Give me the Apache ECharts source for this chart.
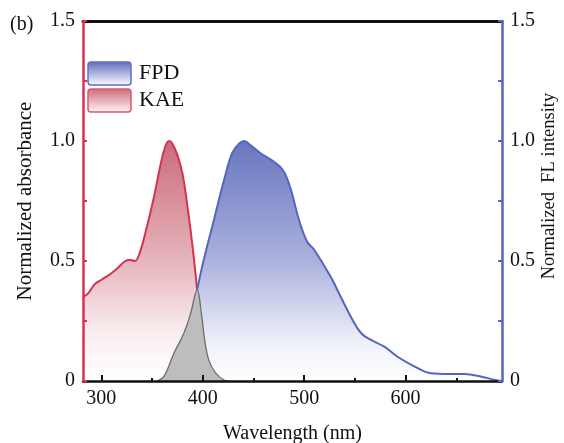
<!DOCTYPE html>
<html>
<head>
<meta charset="utf-8">
<script src="https://cdn.jsdelivr.net/npm/echarts@6/dist/echarts.min.js"></script>
<style>html,body{margin:0;padding:0;background:#fff;}#c{width:564px;height:443px;}</style>
</head>
<body>
<div id="c"></div>
<script>
// ---- data ----
const kaeX = [282, 287, 294, 301, 309, 316, 323, 328, 333, 338, 345, 352, 358, 363, 367, 370, 375, 380, 385, 390, 394.5];
const kaeY = [0.35, 0.365, 0.405, 0.424, 0.446, 0.47, 0.498, 0.505, 0.5, 0.535, 0.643, 0.768, 0.893, 0.976, 1.0, 0.99, 0.942, 0.865, 0.726, 0.56, 0.38];
const fpdX = [394.5, 401, 411, 421, 429, 436, 441, 447, 457, 470, 479, 486, 495, 503, 510, 526, 536, 546, 556, 566, 579, 592, 609, 625, 642, 658, 675, 688, 695];
const fpdY = [0.38, 0.504, 0.67, 0.837, 0.949, 0.99, 1.0, 0.983, 0.949, 0.914, 0.879, 0.81, 0.67, 0.58, 0.546, 0.435, 0.351, 0.268, 0.2, 0.171, 0.143, 0.101, 0.06, 0.032, 0.029, 0.029, 0.018, 0.004, 0];
const ovX = [355, 362, 371.5, 381.5, 388, 394.5, 399, 402, 406, 413, 421, 426];
const ovY = [0, 0.02, 0.115, 0.2, 0.28, 0.38, 0.27, 0.17, 0.087, 0.032, 0.004, 0];
const xMajor = [300, 400, 500, 600];
const xMinor = [300, 350, 400, 450, 500, 550, 600, 650];
const yTicks = [0, 0.5, 1.0, 1.5];
const legendNames = ['FPD', 'KAE'];

const zip = (xs, ys) => xs.map((x, i) => [x, ys[i]]);
const FONT = 'Liberation Serif';
const RED = '#d3344f';
const BLUE = '#5566c0';
const grad = stops => new echarts.graphic.LinearGradient(0, 0, 0, 1,
  stops.map(s => ({ offset: s[0], color: s[1] })));

const chart = echarts.init(document.getElementById('c'), null, { renderer: 'canvas' });
const yLabel = v => (yTicks.indexOf(Math.round(v * 100) / 100) >= 0 ? (v === 0 ? '0' : v.toFixed(1)) : '');

chart.setOption({
  animation: false,
  backgroundColor: '#fff',
  textStyle: { fontFamily: FONT },
  grid: { left: 83, right: 62, top: 21, bottom: 62, containLabel: false, outerBoundsMode: 'none' },
  xAxis: [
    { type: 'value', position: 'bottom', min: 282, max: 695, z: 10,
      axisLine: { show: true, lineStyle: { color: '#111', width: 2.5 } },
      axisTick: { show: true, inside: true, length: 3, customValues: xMinor, lineStyle: { color: '#111', width: 2 } },
      axisLabel: { show: false }, splitLine: { show: false } },
    { type: 'value', position: 'bottom', min: 282, max: 695, z: 11,
      name: 'Wavelength (nm)', nameLocation: 'middle', nameGap: 43, nameMoveOverlap: false,
      nameTextStyle: { fontFamily: FONT, fontSize: 20, color: '#111' },
      axisLine: { show: false },
      axisTick: { show: true, inside: true, length: 6, customValues: xMajor, lineStyle: { color: '#111', width: 2 } },
      axisLabel: { customValues: xMajor, margin: 8, fontFamily: FONT, fontSize: 20, color: '#111' },
      splitLine: { show: false } },
    { type: 'value', position: 'top', min: 282, max: 695, z: 10,
      axisLine: { show: true, lineStyle: { color: '#111', width: 3 } },
      axisTick: { show: false }, axisLabel: { show: false }, splitLine: { show: false } }
  ],
  yAxis: [
    { type: 'value', position: 'left', min: 0, max: 1.5, interval: 0.25, z: 12,
      name: 'Normalized absorbance', nameLocation: 'middle', nameGap: 47, nameMoveOverlap: false,
      nameTextStyle: { fontFamily: FONT, fontSize: 21, color: '#111' },
      axisLine: { show: true, lineStyle: { color: RED, width: 2.5 } },
      axisTick: { show: true, inside: true, length: 4, lineStyle: { color: RED, width: 2 } },
      axisLabel: { formatter: yLabel, margin: 8, fontFamily: FONT, fontSize: 20, color: '#111' },
      splitLine: { show: false } },
    { type: 'value', position: 'right', min: 0, max: 1.5, interval: 0.25, z: 12,
      name: 'Normalized  FL intensity', nameLocation: 'middle', nameGap: 38, nameMoveOverlap: false,
      nameTextStyle: { fontFamily: FONT, fontSize: 18.5, color: '#111', padding: [0, 0, 0, 30] },
      axisLine: { show: true, lineStyle: { color: BLUE, width: 2.5 } },
      axisTick: { show: true, inside: true, length: 4, lineStyle: { color: BLUE, width: 2 } },
      axisLabel: { formatter: yLabel, margin: 8, fontFamily: FONT, fontSize: 20, color: '#111' },
      splitLine: { show: false } }
  ],
  series: [
    { name: 'KAE', type: 'line', xAxisIndex: 0, yAxisIndex: 0, data: zip(kaeX, kaeY),
      smooth: 0.4, showSymbol: false, z: 2,
      lineStyle: { color: RED, width: 2 },
      areaStyle: { opacity: 1, color: grad([[0, 'rgb(202,108,124)'], [0.5, 'rgb(230,180,188)'], [0.8, 'rgb(249,238,240)'], [1, '#ffffff']]) } },
    { name: 'FPD', type: 'line', xAxisIndex: 0, yAxisIndex: 1, data: zip(fpdX, fpdY),
      smooth: 0.4, showSymbol: false, z: 2,
      lineStyle: { color: BLUE, width: 2 },
      areaStyle: { opacity: 1, color: grad([[0, 'rgb(104,118,190)'], [0.5, 'rgb(172,178,222)'], [0.85, 'rgb(240,242,250)'], [1, '#ffffff']]) } },
    { name: 'overlap', type: 'line', xAxisIndex: 0, yAxisIndex: 0, data: zip(ovX, ovY),
      smooth: 0.4, showSymbol: false, z: 3,
      lineStyle: { color: '#6e6e6e', width: 1.3 },
      areaStyle: { color: '#bdbdbd', opacity: 1 } }
  ],
  graphic: [
    { type: 'text', x: 10, y: 25, style: { text: '(b)', fontFamily: FONT, fontSize: 20, fill: '#111', verticalAlign: 'middle' } },
    { type: 'rect', x: 88, y: 62, shape: { width: 43, height: 23, r: 3 },
      style: { fill: grad([[0, 'rgb(92,106,186)'], [1, '#ffffff']]), stroke: 'rgb(95,110,200)', lineWidth: 1.5 } },
    { type: 'text', x: 139, y: 73, style: { text: legendNames[0], fontFamily: FONT, fontSize: 22, fill: '#111', verticalAlign: 'middle' } },
    { type: 'rect', x: 88, y: 89, shape: { width: 43, height: 23, r: 3 },
      style: { fill: grad([[0, 'rgb(205,105,122)'], [1, 'rgb(255,246,248)']]), stroke: 'rgb(215,90,110)', lineWidth: 1.5 } },
    { type: 'text', x: 139, y: 100, style: { text: legendNames[1], fontFamily: FONT, fontSize: 22, fill: '#111', verticalAlign: 'middle' } }
  ]
});
</script>
</body>
</html>
